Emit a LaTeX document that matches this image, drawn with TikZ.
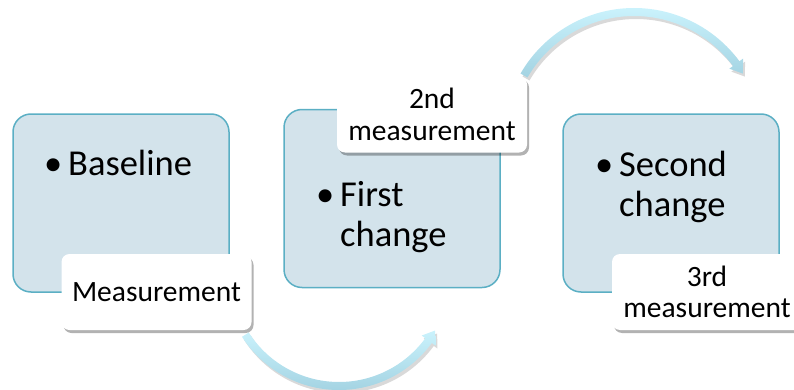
\documentclass[tikz,border=0pt]{standalone}
\usepackage{fontspec}
\setmainfont{Carlito}
\usetikzlibrary{shadows}
\definecolor{boxfill}{HTML}{D3E3EB}
\definecolor{boxline}{HTML}{5BAFC4}
\definecolor{arrlight}{HTML}{CAF2FC}
\definecolor{arrdark}{HTML}{A3D3E2}
\newcommand\botarrowpath{(212.5:115) arc[start angle=212.5,end angle=323.8,radius=115] -- (323.8:119.5) -- (330:111) -- (323.8:102.5) -- (323.8:107) arc[start angle=323.8,end angle=212.5,radius=107] -- cycle}
\newcommand\toparrowpath{(150:131) arc[start angle=150,end angle=36.4,radius=131] -- (36.4:135.5) -- (31:127) -- (36.4:118.5) -- (36.4:123) arc[start angle=36.4,end angle=150,radius=123] -- cycle}
\begin{document}
\begin{tikzpicture}[x=1pt,y=1pt,
  stepbox/.style={draw=boxline, line width=1.5pt, fill=boxfill, rounded corners=18pt, minimum width=216pt, minimum height=178pt, inner sep=0pt},
  tag/.style={fill=white, rounded corners=8pt, minimum width=190pt, minimum height=76pt, inner sep=0pt, font=\fontsize{29.5}{31.5}\selectfont, align=center, drop shadow={shadow xshift=2pt, shadow yshift=-3pt, opacity=0.3, fill=black}},
  boxtext/.style={anchor=base west, inner sep=0pt, font=\fontsize{36.5}{40}\selectfont, text width=170pt, align=left},
  arrowshadow/.style={fill=black, opacity=0.15},
  arrowbody/.style={top color=arrlight, bottom color=arrdark},
]
\useasboundingbox (0,0) rectangle (794,389);
% boxes
\node[stepbox] (b1) at (121,186) {};
\node[stepbox] (b2) at (392,190.5) {};
\node[stepbox] (b3) at (671,186) {};
% box texts
\node[boxtext] (t1) at (68,214) {\llap{\textbullet\hspace{6pt}}Baseline};
\node[boxtext] (t2) at (340,183) {\llap{\textbullet\hspace{6pt}}First\\change};
\node[boxtext] (t3) at (619,213) {\llap{\textbullet\hspace{6pt}}Second\\change};
% arrow centres
\coordinate (c1) at (339,114);
\coordinate (c2) at (634,250);
% arrows
\begin{scope}[shift={(c1)}]
  \fill[arrowshadow, shift={(2,-3)}] \botarrowpath;
  \shade[arrowbody] \botarrowpath;
\end{scope}
\begin{scope}[shift={(c2)}]
  \fill[arrowshadow, shift={(2,-3)}] \toparrowpath;
  \shade[arrowbody] \toparrowpath;
\end{scope}
% labels
\node[tag] (l1) at (156.5,97) {Measurement};
\node[tag] (l2) at (432,274.5) {2nd\\measurement};
\node[tag] (l3) at (707,97) {3rd\\measurement};
\end{tikzpicture}
\end{document}
